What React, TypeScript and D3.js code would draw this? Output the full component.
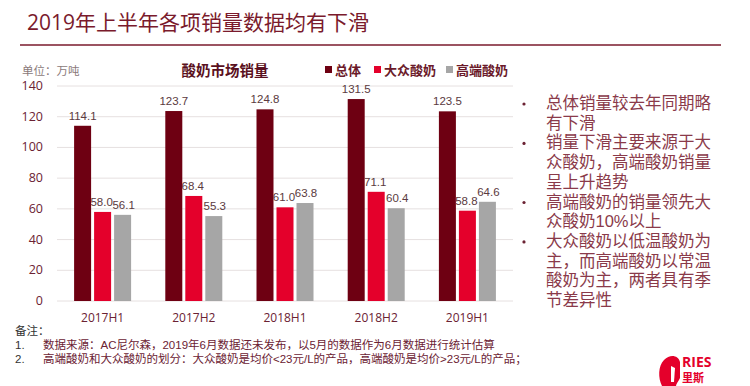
import React, { useEffect, useRef } from 'react'
import * as d3 from 'd3'

const categories = ['2017H1', '2017H2', '2018H1', '2018H2', '2019H1']
const seriesNames = ['总体', '大众酸奶', '高端酸奶']
const totalValues = [114.1, 123.7, 124.8, 131.5, 123.5]
const massValues = [58.0, 68.4, 61.0, 71.1, 58.8]
const premiumValues = [56.1, 55.3, 63.8, 60.4, 64.6]
const yTicks = [0, 20, 40, 60, 80, 100, 120, 140]
const colors = ['#6e0012', '#e4002b', '#a6a6a6']

const bullets = [
  ['总体销量较去年同期略', '有下滑'],
  ['销量下滑主要来源于大', '众酸奶，高端酸奶销量', '呈上升趋势'],
  ['高端酸奶的销量领先大', '众酸奶10%以上'],
  ['大众酸奶以低温酸奶为', '主，而高端酸奶以常温', '酸奶为主，两者具有季', '节差异性'],
]
const notes = [
  '数据来源：AC尼尔森，2019年6月数据还未发布，以5月的数据作为6月数据进行统计估算',
  '高端酸奶和大众酸奶的划分：大众酸奶是均价<23元/L的产品，高端酸奶是均价>23元/L的产品；',
]

const font = '"Open Sans", "Noto Sans CJK SC", sans-serif'
const compactFont = '"Liberation Sans", "Noto Sans CJK SC", sans-serif'
const textColor = '#6b2233'

export default function App() {
  const ref = useRef<SVGSVGElement>(null)

  useEffect(() => {
    const svg = d3.select(ref.current)
    svg.selectAll('*').remove()

    // page title
    svg.append('text')
      .attr('x', 27).attr('y', 30)
      .attr('font-family', font).attr('font-size', 21)
      .attr('fill', '#7a1a2c')
      .text('2019年上半年各项销量数据均有下滑')
    svg.append('line')
      .attr('x1', 20).attr('x2', 721).attr('y1', 45).attr('y2', 45)
      .attr('stroke', '#7a1a2c').attr('stroke-width', 1.5)

    const x0 = d3.scaleBand().domain(categories).range([57, 513]).paddingInner(0.375).paddingOuter(0.1875)
    const x1 = d3.scaleBand().domain(seriesNames).range([0, x0.bandwidth()]).paddingInner(0.15)
    const y = d3.scaleLinear().domain([0, 140]).range([301, 86])

    const g = svg.append('g')

    // grid
    g.selectAll('.grid').data(yTicks).enter().append('line')
      .attr('x1', 57).attr('x2', 513)
      .attr('y1', d => y(d)).attr('y2', d => y(d))
      .attr('stroke', '#e6e0e0').attr('stroke-width', 1)

    g.selectAll('.ytick').data(yTicks).enter().append('text')
      .attr('x', 43).attr('y', d => y(d) + 4)
      .attr('text-anchor', 'end')
      .attr('font-family', font).attr('font-size', 12.5)
      .attr('fill', textColor)
      .text(d => d)

    g.selectAll('.xtick').data(categories).enter().append('text')
      .attr('x', d => x0(d)! + x0.bandwidth() / 2).attr('y', 322)
      .attr('text-anchor', 'middle')
      .attr('font-family', font).attr('font-size', 12)
      .attr('fill', textColor)
      .text(d => d)

    // small nudge so neighbouring labels sit apart, like the original
    const labelShift = [0, -1, 1]
    const series = [totalValues, massValues, premiumValues]
    series.forEach((vals, si) => {
      const name = seriesNames[si]
      g.selectAll('.bar' + si).data(vals).enter().append('rect')
        .attr('x', (d, i) => x0(categories[i])! + x1(name)!)
        .attr('y', d => y(d))
        .attr('width', x1.bandwidth())
        .attr('height', d => y(0) - y(d))
        .attr('fill', colors[si])
      g.selectAll('.lbl' + si).data(vals).enter().append('text')
        .attr('x', (d, i) => x0(categories[i])! + x1(name)! + x1.bandwidth() / 2 + labelShift[si])
        .attr('y', d => y(d) - 6)
        .attr('text-anchor', 'middle')
        .attr('font-family', compactFont).attr('font-size', 11.5)
        .attr('fill', '#5a3a40')
        .text(d => d.toFixed(1))
    })

    // unit + chart title
    svg.append('text')
      .attr('x', 22).attr('y', 75)
      .attr('font-family', '"Noto Sans CJK SC", serif').attr('font-size', 11.5)
      .attr('fill', '#8a7a7a')
      .text('单位：万吨')
    svg.append('text')
      .attr('x', 225).attr('y', 76)
      .attr('text-anchor', 'middle')
      .attr('font-family', font).attr('font-size', 14.5).attr('font-weight', 'bold')
      .attr('fill', '#5a1020')
      .text('酸奶市场销量')

    // legend
    const legendX = [325, 374, 446]
    seriesNames.forEach((n, i) => {
      svg.append('rect').attr('x', legendX[i]).attr('y', 66).attr('width', 7).attr('height', 7).attr('fill', colors[i])
      svg.append('text')
        .attr('x', legendX[i] + 10).attr('y', 75)
        .attr('font-family', font).attr('font-size', 13).attr('font-weight', 'bold')
        .attr('fill', '#6b1a2a')
        .text(n)
    })

    // bullets on the right
    const lineY = (k: number) => 109 + k * 19.7
    let line = 0
    bullets.forEach(b => {
      svg.append('circle').attr('cx', 524).attr('cy', lineY(line) - 5).attr('r', 1.6).attr('fill', '#6b2233')
      b.forEach(t => {
        svg.append('text')
          .attr('x', 546).attr('y', lineY(line))
          .attr('font-family', compactFont).attr('font-size', 16.5)
          .attr('fill', '#8a3a4a')
          .text(t)
        line++
      })
    })

    // notes
    svg.append('text')
      .attr('x', 15).attr('y', 335)
      .attr('font-family', compactFont).attr('font-size', 11.5)
      .attr('fill', '#333')
      .text('备注：')
    notes.forEach((n, i) => {
      svg.append('text')
        .attr('x', 15).attr('y', 349 + i * 14)
        .attr('font-family', compactFont).attr('font-size', 11.5)
        .attr('fill', '#333')
        .text((i + 1) + '.')
      svg.append('text')
        .attr('x', 43).attr('y', 349 + i * 14)
        .attr('font-family', compactFont).attr('font-size', 11.5)
        .attr('fill', '#6b2233')
        .text(n)
    })

    // logo
    const logo = svg.append('g').attr('transform', 'translate(658,352)')
    logo.append('path')
      .attr('d', 'M4,34 C0,26 0,14 6,8 C12,2 20,3 22,10 L22,26 C20,30 18,32 18,34 Z')
      .attr('fill', '#e4002b')
    logo.append('path').attr('d', 'M13,14 L17,16 L16,30 L13,30 Z').attr('fill', '#fff')
    logo.append('text')
      .attr('x', 24).attr('y', 15)
      .attr('font-family', font).attr('font-size', 14).attr('font-weight', 'bold')
      .attr('fill', '#e4002b')
      .text('RIES')
    logo.append('text')
      .attr('x', 24).attr('y', 30)
      .attr('font-family', font).attr('font-size', 11).attr('font-weight', 'bold')
      .attr('fill', '#e4002b')
      .text('里斯')
  }, [])

  return (
    <svg ref={ref} width={750} height={386} style={{ position: 'absolute', left: 0, top: 0, background: '#fff' }} />
  )
}
